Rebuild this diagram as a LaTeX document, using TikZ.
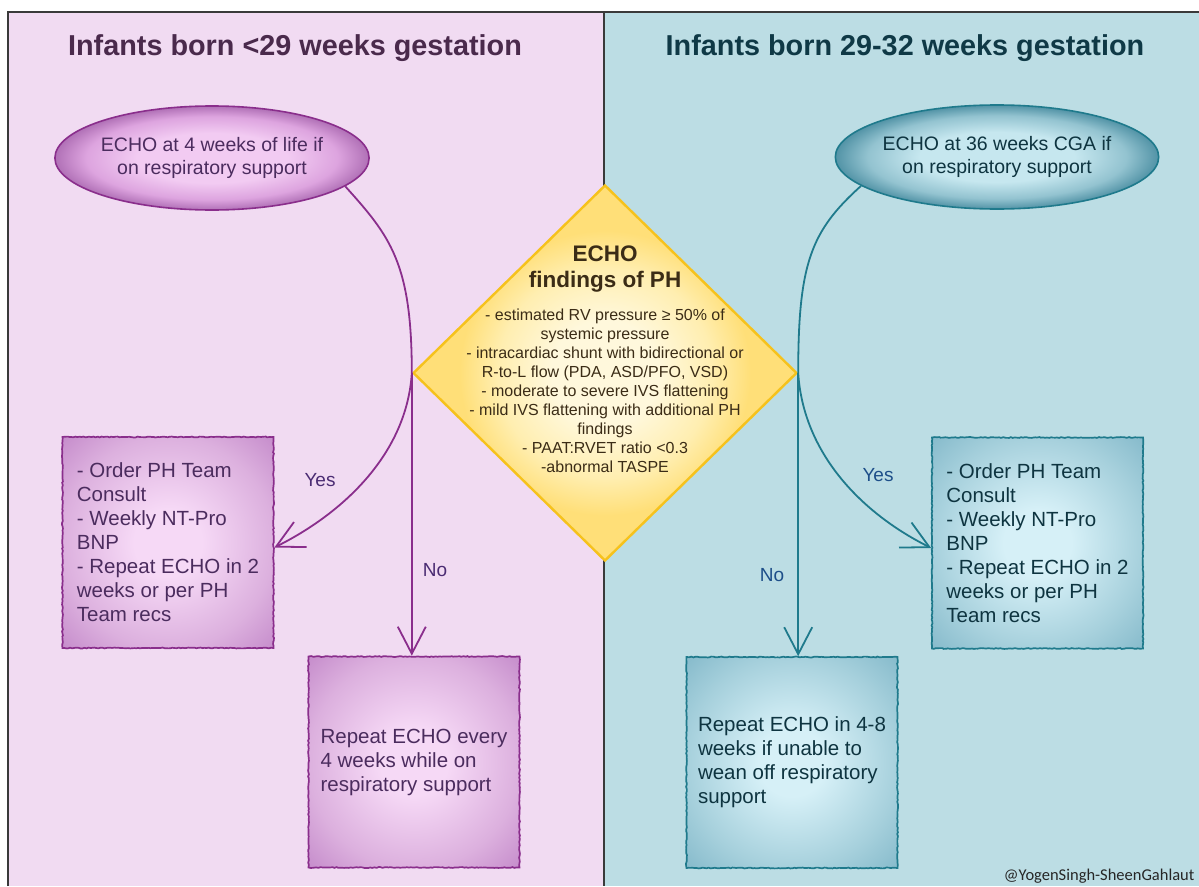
\documentclass[tikz,border=0pt]{standalone}
\usepackage{fontspec}
\setmainfont{Liberation Sans}
\newfontfamily\wmfont{Carlito}
\usetikzlibrary{shapes.geometric,arrows.meta,calc,decorations.pathmorphing}
\definecolor{lbg}{HTML}{F1DBF2}
\definecolor{rbg}{HTML}{BCDDE4}
\definecolor{frame}{HTML}{3A3A3A}
\definecolor{ltitle}{HTML}{4A2A4C}
\definecolor{rtitle}{HTML}{0F3946}
\definecolor{lstroke}{HTML}{8A2E8C}
\definecolor{rstroke}{HTML}{1F7A8C}
\definecolor{ltext}{HTML}{4B2C5E}
\definecolor{rtext}{HTML}{0E3440}
\definecolor{llab}{HTML}{4B2C73}
\definecolor{rlab}{HTML}{1D4E89}
\definecolor{lin}{HTML}{F6D9F6}
\definecolor{lmid}{HTML}{DCB0DE}
\definecolor{lout}{HTML}{C48ACA}
\definecolor{rin}{HTML}{D6F0F7}
\definecolor{rmid}{HTML}{A6D0DC}
\definecolor{rout}{HTML}{84B9CA}
\definecolor{lein}{HTML}{F2CBF2}
\definecolor{lemid}{HTML}{DDA4DF}
\definecolor{leout}{HTML}{B070B6}
\definecolor{rein}{HTML}{C6E7EF}
\definecolor{remid}{HTML}{93C3D0}
\definecolor{reout}{HTML}{5293A6}
\definecolor{din}{HTML}{FFF8DC}
\definecolor{dmid}{HTML}{FFEEB0}
\definecolor{dout}{HTML}{FFDF78}
\definecolor{dborder}{HTML}{F6C21C}
\definecolor{dtext}{HTML}{3B2C16}
\pgfdeclareradialshading{lboxshade}{\pgfpoint{0bp}{0bp}}{color(0bp)=(lin); color(8bp)=(lin); color(25bp)=(lmid); color(36bp)=(lout); color(50bp)=(lout)}
\pgfdeclareradialshading{rboxshade}{\pgfpoint{0bp}{0bp}}{color(0bp)=(rin); color(8bp)=(rin); color(25bp)=(rmid); color(36bp)=(rout); color(50bp)=(rout)}
\pgfdeclareradialshading{lellshade}{\pgfpoint{0bp}{0bp}}{color(0bp)=(lein); color(12bp)=(lein); color(20bp)=(lemid); color(25bp)=(leout); color(50bp)=(leout)}
\pgfdeclareradialshading{rellshade}{\pgfpoint{0bp}{0bp}}{color(0bp)=(rein); color(12bp)=(rein); color(20bp)=(remid); color(25bp)=(reout); color(50bp)=(reout)}
\pgfdeclareradialshading{dshade}{\pgfpoint{0bp}{0bp}}{color(0bp)=(din); color(7bp)=(din); color(14bp)=(dmid); color(19bp)=(dout); color(50bp)=(dout)}
\begin{document}
\begin{tikzpicture}[x=1pt,y=-1pt,
  frameline/.style={draw=frame,line width=1.2pt},
  title/.style={font=\bfseries\fontsize{28.8}{32}\selectfont},
  rough/.style={decorate,decoration={random steps,segment length=2pt,amplitude=0.45pt}},
  ellbase/.style={ellipse,minimum width=305pt,minimum height=104pt,inner sep=0pt,
    line width=1.6pt,align=center,font=\fontsize{19.5}{23}\selectfont},
  lell/.style={ellbase,draw=lstroke,shade,shading=lellshade,text=ltext},
  rell/.style={ellbase,draw=rstroke,shade,shading=rellshade,text=rtext},
  boxbase/.style={rectangle,minimum width=211pt,minimum height=211pt,inner sep=0pt,
    line width=1.7pt,align=left,font=\fontsize{20.5}{24}\selectfont,rough},
  lbox/.style={boxbase,draw=lstroke,shade,shading=lboxshade,text=ltext},
  rbox/.style={boxbase,draw=rstroke,shade,shading=rboxshade,text=rtext},
  diam/.style={diamond,minimum width=384pt,minimum height=376pt,inner sep=0pt,
    draw=dborder,line width=2.4pt,shade,shading=dshade},
  dhead/.style={align=center,text=dtext,font=\bfseries\fontsize{22.5}{26}\selectfont},
  dbody/.style={align=center,text=dtext,font=\fontsize{16}{19}\selectfont},
  conn/.style={line width=1.8pt},
  lconn/.style={conn,draw=lstroke},
  rconn/.style={conn,draw=rstroke},
  tip/.style={-{Straight Barb[length=27pt,width=28pt]}},
  lab/.style={font=\fontsize{19}{22}\selectfont}
]
\useasboundingbox (0,0) rectangle (1199,886);
\fill[white] (0,0) rectangle (1199,886);
\fill[lbg] (8,12) rectangle (604,886);
\fill[rbg] (604,12) rectangle (1199,886);
\draw[frameline] (8,886) -- (8,12) -- (1199,12);
\draw[frameline] (604,12) -- (604,886);

\node[title,text=ltitle] (t1) at (295,48) {Infants born <29 weeks gestation};
\node[title,text=rtitle] (t2) at (905,48) {Infants born 29-32 weeks gestation};

\node[lell] (e1) at (212,158) {ECHO at 4 weeks of life if\\on respiratory support};
\node[rell] (e2) at (997,157) {ECHO at 36 weeks CGA if\\on respiratory support};

\node[diam] (d) at (605,373) {};
\node[dhead] (dh) at (605,269) {ECHO\\findings of PH};
\node[dbody] (db) at (605,391) {- estimated RV pressure ≥ 50\% of\\systemic pressure\\- intracardiac shunt with bidirectional or\\R-to-L flow (PDA, ASD/PFO, VSD)\\- moderate to severe IVS flattening\\- mild IVS flattening with additional PH\\findings\\- PAAT:RVET ratio <0.3\\-abnormal TASPE};

\node[lbox] (b1) at (168,542.5) {- Order PH Team\\Consult\\- Weekly NT-Pro\\BNP\\- Repeat ECHO in 2\\weeks or per PH\\Team recs};
\node[lbox] (b2) at (414,762) {Repeat ECHO every\\4 weeks while on\\respiratory support};
\node[rbox] (b3) at (1037.5,543) {- Order PH Team\\Consult\\- Weekly NT-Pro\\BNP\\- Repeat ECHO in 2\\weeks or per PH\\Team recs};
\node[rbox] (b4) at (792,762.5) {Repeat ECHO in 4-8\\weeks if unable to\\wean off respiratory\\support};

% left connectors
\draw[lconn] (e1.-12) .. controls +(45,50) and +(0,-110) .. (d.west);
\draw[lconn,tip] (d.west) .. controls +(-5,80) and +(70,-35) .. ($(b1.east)+(0,5)$);
\draw[lconn,tip] (d.west) -- (d.west |- b2.north);
% right connectors
\draw[rconn] (e2.192) .. controls +(-50,45) and +(0,-110) .. (d.east);
\draw[rconn,tip] (d.east) .. controls +(5,80) and +(-70,-35) .. ($(b3.west)+(0,5)$);
\draw[rconn,tip] (d.east) -- (d.east |- b4.north);

\node[lab,text=llab] (ly) at (320,480) {Yes};
\node[lab,text=llab] (ln) at (435,570) {No};
\node[lab,text=rlab] (ry) at (878,475) {Yes};
\node[lab,text=rlab] (rn) at (772,575) {No};

\node[anchor=east,text=black!85,font=\wmfont\fontsize{16.5}{19}\selectfont] (wm) at (1198,876) {@YogenSingh-SheenGahlaut};
\end{tikzpicture}
\end{document}
